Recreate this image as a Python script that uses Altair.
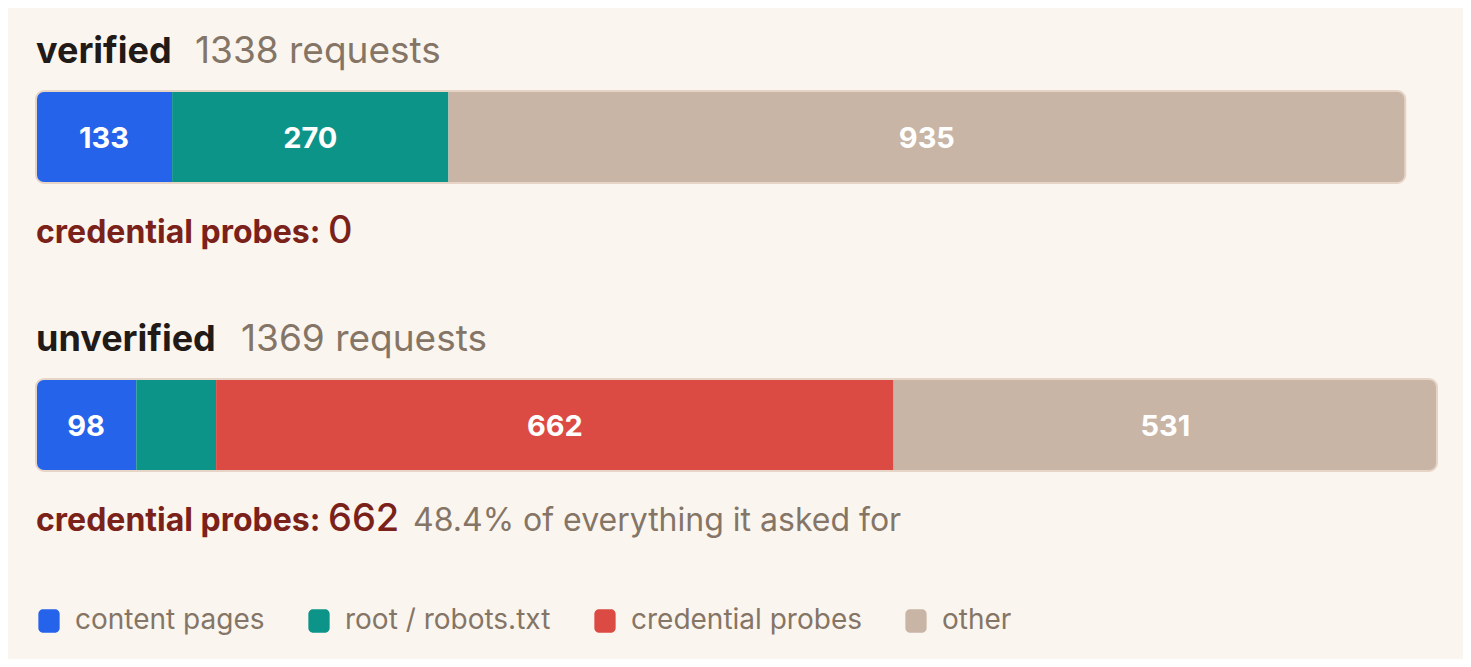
import altair as alt
import pandas as pd

groups = ["verified", "unverified"]
categories = ["content pages", "root / robots.txt", "credential probes", "other"]
verified_counts = [133, 270, 0, 935]
unverified_counts = [98, 78, 662, 531]
colors = ["#2563EB", "#0D9488", "#DB4B43", "#C8B5A6"]

BG = "#FBF5EF"
DARK = "#211A16"
GREY = "#857566"
RED_TEXT = "#7A2219"
FONT = "Inter"

rows = []
for g, counts in zip(groups, [verified_counts, unverified_counts]):
    total = sum(counts)
    nz = [i for i, c in enumerate(counts) if c > 0]
    start = 0
    for i, (cat, c) in enumerate(zip(categories, counts)):
        pos = "first" if i == nz[0] else ("last" if i == nz[-1] else "mid")
        rows.append(dict(group=g, category=cat, value=c, start=start, end=start + c,
                         total=total, pos=pos, show=c / total >= 0.065))
        start += c
seg = pd.DataFrame(rows)
seg = seg[seg["value"] > 0]

totals = [sum(verified_counts), sum(unverified_counts)]
probes = [verified_counts[2], unverified_counts[2]]
summary = pd.DataFrame(dict(group=groups, total=totals, probes=probes))
summary["req"] = summary["total"].astype(str) + " requests"
summary["share"] = [f"{p / t * 100:.1f}% of everything it asked for" for p, t in zip(probes, totals)]

# scale: 0 -> 28px, 1369 -> 1429px inside a 1455px wide view
k = 1401 / 1369
xscale = alt.Scale(domain=[-28 / k, (1455 - 28) / k], nice=False, zero=False)
yscale = alt.Scale(domain=groups, range=[83, 463], paddingInner=1 - 92 / 288, paddingOuter=0)

X = lambda f: alt.X(f, type="quantitative", scale=xscale, axis=None)
Y = alt.Y("group:N", scale=yscale, axis=None)

symbol_path = ("M-0.5,-1 h1.0 a0.4,0.4 0 0 1 0.4,0.4 v1.2 a0.4,0.4 0 0 1 -0.4,0.4 "
               "h-1.0 a0.4,0.4 0 0 1 -0.4,-0.4 v-1.2 a0.4,0.4 0 0 1 0.4,-0.4 z")

color = alt.Color(
    "category:N",
    scale=alt.Scale(domain=categories, range=colors),
    legend=alt.Legend(
        orient="none", legendX=27, legendY=599, direction="horizontal", columns=4,
        title=None, symbolType=symbol_path,
        symbolSize=560, symbolStrokeWidth=0, symbolOffset=0,
        labelFont=FONT, labelFontSize=28, labelColor=GREY, labelOffset=12,
        columnPadding=40, padding=0, labelLimit=400,
    ),
)

base_seg = alt.Chart(seg)
first = base_seg.transform_filter("datum.pos == 'first'").mark_bar(
    cornerRadiusTopLeft=8, cornerRadiusBottomLeft=8
).encode(x=X("start"), x2="end", y=Y, color=color)
mid = base_seg.transform_filter("datum.pos == 'mid'").mark_bar().encode(
    x=X("start"), x2="end", y=Y, color=color)
last = base_seg.transform_filter("datum.pos == 'last'").mark_bar(
    cornerRadiusTopRight=8, cornerRadiusBottomRight=8
).encode(x=X("start"), x2="end", y=Y, color=color)

outline = alt.Chart(summary).mark_bar(
    fillOpacity=0, stroke="#E6D5C7", strokeWidth=2, cornerRadius=8
).encode(x=X("zero"), x2="total", y=Y).transform_calculate(zero="0")

seg_labels = base_seg.transform_filter("datum.show").transform_calculate(
    mid="(datum.start + datum.end) / 2"
).mark_text(color="white", font=FONT, fontSize=29, fontWeight=700, baseline="middle",
            align="center", dy=2
).encode(x=X("mid"), y=Y, text="value:Q")

sb = alt.Chart(summary)
head = sb.mark_text(align="left", baseline="alphabetic", dy=-74, font=FONT, fontSize=36,
                    fontWeight=700, color=DARK).encode(x=alt.datum(0, scale=xscale), y=Y, text="group:N")
req_v = sb.transform_filter("datum.group == 'verified'").mark_text(
    align="left", baseline="alphabetic", dy=-74, font=FONT, fontSize=37, fontWeight=400, color=GREY
).encode(x=alt.value(187), y=Y, text="req:N")
req_u = sb.transform_filter("datum.group == 'unverified'").mark_text(
    align="left", baseline="alphabetic", dy=-74, font=FONT, fontSize=37, fontWeight=400, color=GREY
).encode(x=alt.value(233), y=Y, text="req:N")

cred = sb.mark_text(align="left", baseline="alphabetic", dy=106, font=FONT, fontSize=32,
                    fontWeight=700, color=RED_TEXT).encode(
    x=alt.datum(0, scale=xscale), y=Y, text=alt.value("credential probes:"))
cred_n = sb.mark_text(align="left", baseline="alphabetic", dy=106, font=FONT, fontSize=38,
                      fontWeight=500, color=RED_TEXT).encode(x=alt.value(320), y=Y, text="probes:Q")
share = sb.transform_filter("datum.probes > 0").mark_text(
    align="left", baseline="alphabetic", dy=106, font=FONT, fontSize=32, fontWeight=400, color=GREY
).encode(x=alt.value(405), y=Y, text="share:N")

chart = alt.layer(first, mid, last, outline, seg_labels, head, req_v, req_u, cred, cred_n, share).properties(
    width=1455, height=651, background=BG, padding=0,
    autosize=alt.AutoSizeParams(type="none"),
).configure_view(stroke=None)

chart.save("out.html", embed_options={"renderer": "svg", "actions": False})
